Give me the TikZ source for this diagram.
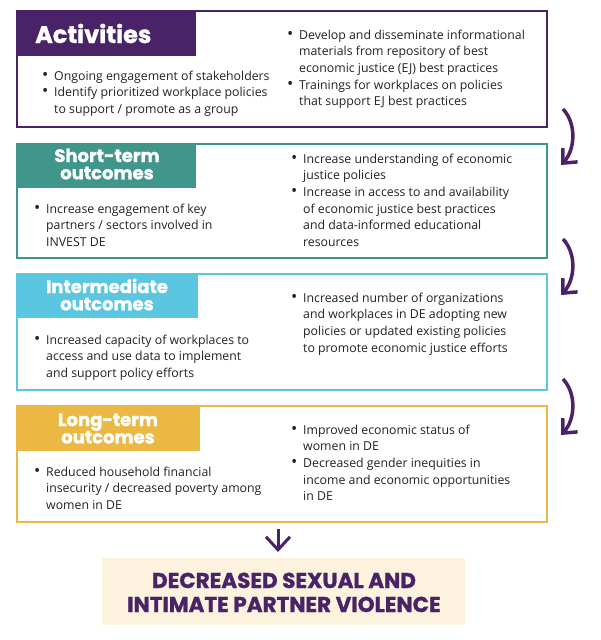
\documentclass[tikz,border=0pt]{standalone}
\usepackage{fontspec}
\setmainfont{Open Sans}
\newfontfamily\headfont{Poppins}[BoldFeatures={FakeBold=1.2}]
\usetikzlibrary{arrows.meta}
\definecolor{cpurple}{HTML}{4A2268}
\definecolor{cteal}{HTML}{40968A}
\definecolor{cblue}{HTML}{5BC6E0}
\definecolor{cgold}{HTML}{EBB843}
\definecolor{ccream}{HTML}{FDF3DF}
\definecolor{ctext}{HTML}{222222}
\newcommand{\bul}{\scalebox{1.35}{\textbullet}}
\newcommand{\blist}[1]{\fontsize{12.3}{16.7}\selectfont\begin{tabular}[t]{@{}p{12pt}@{}l@{}}#1\end{tabular}}
\newcommand{\hlines}[1]{\fontsize{18}{16}\selectfont\begin{tabular}[t]{@{}c@{}}#1\end{tabular}}
\tikzset{
  box/.style={draw=#1, line width=2.5pt, minimum width=530pt, anchor=north west, inner sep=0pt, outer sep=0pt},
  hdr/.style={fill=#1, anchor=north west, inner sep=0pt, outer sep=0pt},
  htext/.style={text=white, font=\headfont\bfseries, inner sep=0pt},
  btext/.style={anchor=base west, inner sep=0pt, text=ctext},
  curv/.style={draw=cpurple, line width=3.5pt, -{Straight Barb[length=11pt,width=20pt]}},
  downarr/.style={draw=cpurple, line width=3pt, -{Straight Barb[length=13pt,width=24pt]}},
}
\begin{document}
\begin{tikzpicture}[x=1pt,y=-1pt]
\useasboundingbox[fill=white] (0,0) rectangle (600,640);

% Activities
\node[box=cpurple, minimum height=116pt] (act) at (17,11) {};
\node[hdr=cpurple, minimum width=179pt, minimum height=45pt] (acth) at (17,11) {};
\node[htext, anchor=base west, font=\headfont\bfseries\fontsize{24}{24}\selectfont] (actt) at (35,43) {Activities};
\node[btext] (actl) at (42,80) {\blist{\bul & Ongoing engagement of stakeholders\\
\bul & Identify prioritized workplace policies\\
 & to support / promote as a group}};
\node[btext] (actr) at (287,39) {\blist{\bul & Develop and disseminate informational\\
 & materials from repository of best\\
 & economic justice (EJ) best practices\\
\bul & Trainings for workplaces on policies\\
 & that support EJ best practices}};

% Short-term
\node[box=cteal, minimum height=114pt] (st) at (17,144) {};
\node[hdr=cteal, minimum width=179pt, minimum height=44pt] (sth) at (17,144) {};
\node[htext, anchor=base] (stt) at (107,162) {\hlines{Short-term\\outcomes}};
\node[btext] (stl) at (34,213) {\blist{\bul & Increase engagement of key\\
 & partners / sectors involved in\\
 & INVEST DE}};
\node[btext] (str) at (291,163) {\blist{\bul & Increase understanding of economic\\
 & justice policies\\
\bul & Increase in access to and availability\\
 & of economic justice best practices\\
 & and data-informed educational\\
 & resources}};

% Intermediate
\node[box=cblue, minimum height=116pt] (im) at (17,274) {};
\node[hdr=cblue, minimum width=181pt, minimum height=44pt] (imh) at (17,274) {};
\node[htext, anchor=base] (imt) at (107,293) {\hlines{Intermediate\\outcomes}};
\node[btext] (iml) at (34,344) {\blist{\bul & Increased capacity of workplaces to\\
 & access and use data to implement\\
 & and support policy efforts}};
\node[btext] (imr) at (291,302) {\blist{\bul & Increased number of organizations\\
 & and workplaces in DE adopting new\\
 & policies or updated existing policies\\
 & to promote economic justice efforts}};

% Long-term
\node[box=cgold, minimum height=116pt] (lt) at (17,406) {};
\node[hdr=cgold, minimum width=183pt, minimum height=45pt] (lth) at (17,406) {};
\node[htext, anchor=base] (ltt) at (108,426) {\hlines{Long-term\\outcomes}};
\node[btext] (ltl) at (34,476) {\blist{\bul & Reduced household financial\\
 & insecurity / decreased poverty among\\
 & women in DE}};
\node[btext] (ltr) at (291,434) {\blist{\bul & Improved economic status of\\
 & women in DE\\
\bul & Decreased gender inequities in\\
 & income and economic opportunities\\
 & in DE}};

% Final outcome
\node[fill=ccream, anchor=north west, minimum width=363pt, minimum height=67pt, inner sep=0pt] (fin) at (102,558) {};
\node[anchor=base, inner sep=0pt, text=cpurple, font=\headfont\bfseries\fontsize{21.5}{24}\selectfont] (fint) at (284,588)
  {\begin{tabular}[t]{@{}c@{}}DECREASED SEXUAL AND\\INTIMATE PARTNER VIOLENCE\end{tabular}};

% Curved arrows
\coordinate (c1s) at (563,109); \coordinate (c1e) at (561,165);
\coordinate (c2s) at (563,239); \coordinate (c2e) at (561,295);
\coordinate (c3s) at (563,379); \coordinate (c3e) at (561,435);
\draw[curv] (c1s) .. controls (577,124) and (575,150) .. (c1e);
\draw[curv] (c2s) .. controls (577,254) and (575,280) .. (c2e);
\draw[curv] (c3s) .. controls (577,394) and (575,420) .. (c3e);

% Down arrow
\coordinate (d0) at (278,529);
\coordinate (d1) at (278,552);
\draw[downarr] (d0) -- (d1);
\end{tikzpicture}
\end{document}
